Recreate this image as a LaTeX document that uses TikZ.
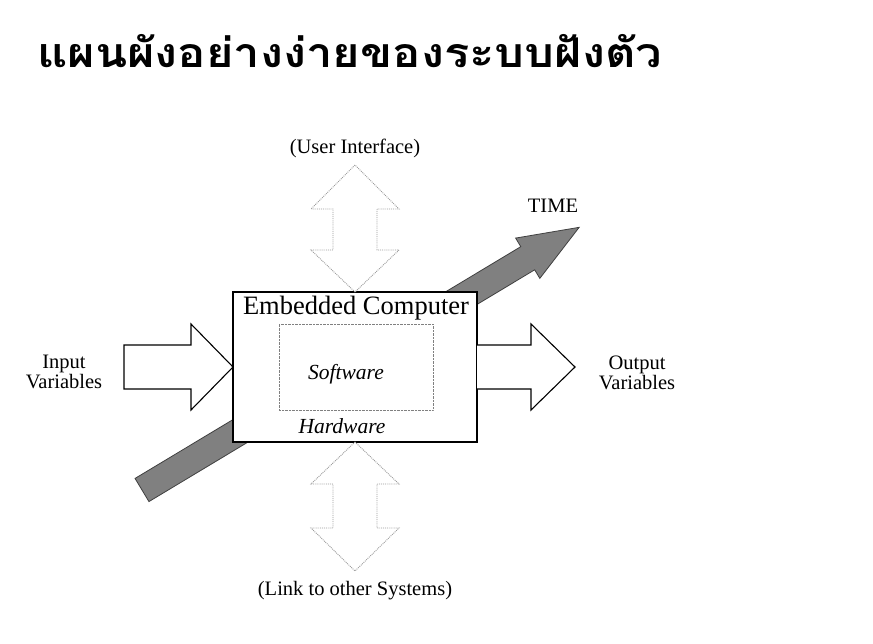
\documentclass[tikz,border=0pt]{standalone}
\usepackage{fontspec}
\setmainfont{Liberation Serif}
\newfontfamily\thaifont[Script=Thai]{Loma}
\usepackage{tikz}
\usetikzlibrary{positioning}
\usetikzlibrary{backgrounds}
\definecolor{TimeColor}{HTML}{808080}
\definecolor{LinkColor}{HTML}{9A9A9A}

\begin{document}
\begin{tikzpicture}[
      x=1pt, y=-1pt,
      every node/.style={inner sep=0pt, outer sep=0pt},
      vartext/.style={font=\fontsize{20.5}{20}\selectfont, align=center},
      boxtext/.style={font=\fontsize{21.5}{22}\selectfont\itshape},
      bigarrow/.style={draw=black, fill=white, line width=1.1pt, line join=miter},
      linkarrow/.style={draw=LinkColor, fill=white, densely dotted, line width=0.9pt},
      timearrow/.style={draw=black!75, fill=TimeColor, line width=0.8pt},
  ]
  \path[use as bounding box] (0,0) rectangle (873,643);
  % Titel
  \node[anchor=base west, xscale=1.15, transform shape, font=\thaifont\bfseries\fontsize{41}{41}\selectfont] (title) at (37,67) {แผนผังอย่างง่ายของระบบฝังตัว};
  % Rechner
  \node[draw, fill=white, line width=1.6pt, minimum width=244pt, minimum height=150pt] (ec) at (355,367) {};
  \node[font=\fontsize{26.5}{27}\selectfont] (ectitle) at (356,308) {Embedded Computer};
  \node[draw=gray, densely dotted, thin, minimum width=154pt, minimum height=86pt] (sw) at (356,367) {};
  \node[boxtext] (swtext) at (346,374) {Software};
  \node[boxtext] (hwtext) at (342,426) {Hardware};
  % ┌─────────┐
  % │ Pfeile  │
  % └─────────┘
  \draw[bigarrow] (ec.west) -- ++(-42,-43) -- ++(0,21) -- ++(-67,0) -- ++(0,44)
      -- ++(67,0) -- ++(0,21) -- cycle;
  \draw[bigarrow] (ec.east) +(0,-22) -- +(54,-22) -- +(54,-43) -- +(98,0)
      -- +(54,43) -- +(54,22) -- +(0,22);
  \draw[linkarrow] (ec.north) -- ++(-44,-42) -- ++(22,0) -- ++(0,-41) -- ++(-22,0)
      -- ++(44,-44) -- ++(44,44) -- ++(-22,0) -- ++(0,41) -- ++(22,0) -- cycle;
  \draw[linkarrow] (ec.south) -- ++(-44,42) -- ++(22,0) -- ++(0,44) -- ++(-22,0)
      -- ++(44,43) -- ++(44,-43) -- ++(-22,0) -- ++(0,-44) -- ++(22,0) -- cycle;
  \begin{pgfonlayer}{background}
  \begin{scope}[shift={(142,490)}, rotate=31]
    \draw[timearrow] (0,13.5) -- (450,13.5) -- (450,23.5) -- (510,0)
        -- (450,-23.5) -- (450,-13.5) -- (0,-13.5) -- cycle;
  \end{scope}
  \end{pgfonlayer}
  % Beschriftungen
  \node[vartext] (ui) at (355,148) {(User Interface)};
  \node[vartext] (link) at (355,591) {(Link to other Systems)};
  \node[vartext] (invar) at (64,372) {Input\\Variables};
  \node[vartext] (outvar) at (637,373) {Output\\Variables};
  \node[vartext] (time) at (553,206) {TIME};
\end{tikzpicture}
\end{document}
